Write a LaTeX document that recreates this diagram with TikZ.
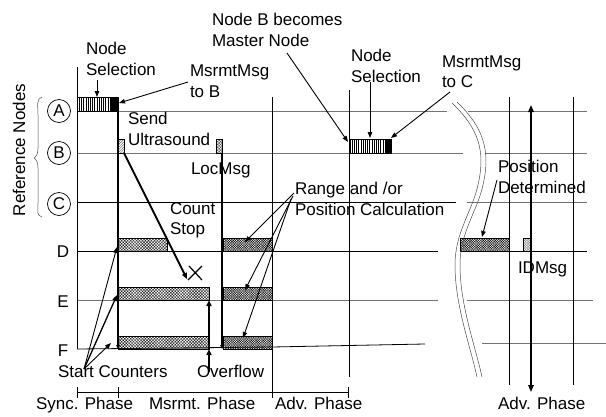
\documentclass[tikz,border=0pt]{standalone}
\usepackage{fontspec}
\setmainfont{Liberation Sans}
\usetikzlibrary{arrows.meta,patterns.meta}
\begin{document}
\begin{tikzpicture}[x=1pt,y=-1pt,
  lbl/.style={inner sep=0pt, outer sep=0pt, font=\fontsize{17}{20.5}\selectfont, align=left, anchor=north west},
  slbl/.style={inner sep=0pt, outer sep=0pt, font=\fontsize{17}{20.5}\selectfont, anchor=base west},
  gridline/.style={line width=0.8pt, black},
  hline/.style={line width=0.9pt, black!55},
  heavy/.style={line width=2pt, black},
  arr/.style={line width=0.9pt, -{Triangle[length=6pt,width=4.5pt]}},
  harr/.style={line width=2pt, -{Triangle[length=6pt,width=5pt]}},
  smallarr/.style={-{Triangle[length=4pt,width=3.5pt]}},
  boxbase/.style={draw, line width=0.6pt, inner sep=0pt, outer sep=0pt, anchor=south west},
  vbox/.style={boxbase, minimum height=14pt, pattern={Lines[angle=90,distance=2.2pt,line width=0.5pt]}},
  blackbox/.style={boxbase, fill=black, minimum height=14pt, minimum width=7pt},
  dbox/.style={boxbase, minimum width=6pt, minimum height=14pt, pattern={Lines[angle=45,distance=1.8pt,line width=0.4pt]}, pattern color=black!70},
  xbox/.style={boxbase, minimum height=13pt, pattern={Hatch[angle=45,distance=2.1pt,line width=0.45pt]}, pattern color=black!85},
  xxbox/.style={boxbase, minimum height=13pt, pattern={Hatch[angle=45,distance=1.7pt,line width=0.45pt]}, pattern color=black!90},
  refc/.style={circle, draw, line width=0.7pt, minimum size=23pt, inner sep=0pt, font=\fontsize{17}{19}\selectfont},
  rowl/.style={inner sep=0pt, font=\fontsize{17}{19}\selectfont},
  brk/.style={line width=0.5pt, black!70}
]
\useasboundingbox (0,0) rectangle (606,416);

% ---------- horizontal lines ----------
\coordinate (a0) at (77,111);  \coordinate (a1) at (447,111);
\coordinate (a2) at (468,111); \coordinate (a3) at (587,111);
\coordinate (b0) at (77,153);  \coordinate (b1) at (463,153);
\coordinate (b2) at (485,153); \coordinate (b3) at (587,153);
\coordinate (c0) at (77,202);  \coordinate (c1) at (456,202);
\coordinate (c2) at (467,202); \coordinate (c3) at (587,202);
\coordinate (d0) at (77,251);  \coordinate (d1) at (438,251);
\coordinate (d2) at (460,251); \coordinate (d3) at (587,251);
\coordinate (e0) at (77,300);  \coordinate (e1) at (438,300);
\coordinate (e2) at (467,300); \coordinate (e3) at (593,300);
\coordinate (f0) at (77,349);  \coordinate (fm) at (272,347);
\coordinate (f1) at (425,344); \coordinate (f2) at (482,343);
\coordinate (f3) at (606,343);
\draw[hline] (a0) -- (a1); \draw[hline] (a2) -- (a3);
\draw[hline] (b0) -- (b1); \draw[hline] (b2) -- (b3);
\draw[gridline] (c0) -- (c1); \draw[hline] (c2) -- (c3);
\draw[gridline] (d0) -- (d1); \draw[gridline] (d2) -- (d3);
\draw[hline] (e0) -- (e1); \draw[hline] (e2) -- (e3);
\draw[gridline] (f0) -- (fm) -- (f1); \draw[hline] (f2) -- (f3);

% ---------- vertical lines ----------
\coordinate (v0t) at (77,67);   \coordinate (v0b) at (77,349);
\coordinate (v3t) at (272,97);  \coordinate (v3b) at (272,392);
\coordinate (v4t) at (349,90);  \coordinate (v4b) at (349,377);
\coordinate (v5t) at (509,97);  \coordinate (v5b) at (509,385);
\coordinate (v6t) at (573,97);  \coordinate (v6b) at (573,385);
\draw[gridline] (v0t) -- (v0b);
\draw[gridline] (v3t) -- (v3b);
\draw[gridline] (v4t) -- (v4b);
\draw[gridline] (v5t) -- (v5b);
\draw[gridline] (v6t) -- (v6b);

% ---------- phase axis ----------
\coordinate (ax0) at (77,392); \coordinate (ax1) at (348,392);
\draw[gridline] (ax0) -- (ax1);
\foreach \t in {77,118,272,348} \draw[gridline] (\t,387) -- (\t,398);

% ---------- boxes ----------
\node[vbox, minimum width=34pt] (selA) at (77,111) {};
\node[blackbox] (msgA) at (111,111) {};
\node[dbox] (usB) at (118,153) {};
\node[dbox, pattern={Hatch[angle=45,distance=2pt,line width=0.4pt]}] (locB) at (216,153) {};
\node[xbox, minimum width=49pt] (dL) at (118,251) {};
\node[xbox, minimum width=91pt] (eL) at (118,300) {};
\node[xbox, minimum width=91pt] (fL) at (118,349) {};
\node[xxbox, minimum width=49pt] (dR) at (223,251) {};
\node[xxbox, minimum width=49pt] (eR) at (223,300) {};
\node[xxbox, minimum width=49pt] (fR) at (223,349) {};
\node[vbox, minimum width=36pt] (selB) at (349,153) {};
\node[blackbox, minimum width=6pt] (msgB) at (385,153) {};
\node[xxbox, minimum width=49pt] (dX) at (460,251) {};
\node[xbox, minimum width=7pt, pattern={Hatch[angle=45,distance=1.8pt,line width=0.35pt]}, pattern color=black!50] (idm) at (523,251) {};

% ---------- heavy timeline lines ----------
\coordinate (h1b) at (118,349);
\draw[heavy] (msgA.south east) -- ([yshift=3pt]h1b);
\draw[smallarr, line width=0.8pt] ([yshift=3pt]h1b) -- (h1b);
\coordinate (h2b) at (222,349);
\draw[heavy] (locB.south east) -- ([yshift=3pt]h2b);
\draw[smallarr, line width=0.8pt] ([yshift=3pt]h2b) -- (h2b);

% ---------- overflow ----------
\coordinate (ovb) at (209,372);
\coordinate (ovf) at (209,349);
\coordinate (ove) at (209,300);
\draw[harr] (ovb) -- (ovf);
\draw[harr] (ovf) -- (ove);

% ---------- count stop ----------
\coordinate (cst) at (187,279);
\draw[harr] (usB.south east) -- (cst);
\coordinate (x1) at (188,280); \coordinate (x2) at (202,266);
\coordinate (x3) at (189,266); \coordinate (x4) at (202,280);
\draw[line width=1.2pt] (x1) -- (x2);
\draw[line width=1.2pt] (x3) -- (x4);

% ---------- double arrow ----------
\coordinate (dat) at (531,105); \coordinate (dab) at (531,392);
\draw[line width=1.5pt, {Triangle[length=7pt,width=5.5pt]}-{Triangle[length=7pt,width=5.5pt]}] (dat) -- (dab);

% ---------- break marks ----------
\draw[brk] (452,103) .. controls (478,128) and (486,150) .. (478,185)
  .. controls (472,212) and (455,232) .. (455,265)
  .. controls (455,305) and (470,345) .. (477,377);
\draw[brk] (457,102) .. controls (483,127) and (491,150) .. (483,185)
  .. controls (477,212) and (460,232) .. (460,265)
  .. controls (460,305) and (475,345) .. (482,377);

% ---------- reference node labels ----------
\node[refc] (cA) at (59,111) {A};
\node[refc] (cB) at (59,153) {B};
\node[refc] (cC) at (59,204) {C};
\node[rowl] (lD) at (63,252) {D};
\node[rowl] (lE) at (63,302) {E};
\node[rowl] (lF) at (63,351) {F};
\coordinate (brt) at (42,97); \coordinate (brb) at (42,217);
\draw[line width=0.5pt, black!70] (brt) .. controls (36,99) and (38,105) .. (38,115)
  -- (38,148) .. controls (38,154) and (36,157) .. (34,158)
  .. controls (36,159) and (38,162) .. (38,168)
  -- (38,203) .. controls (38,212) and (36,215) .. (brb);
\node[inner sep=0pt, rotate=90, font=\fontsize{17}{19}\selectfont] (refn) at (19,150) {Reference Nodes};

% ---------- text labels ----------
\node[lbl] (tNS1) at (86,42.5) {Node\\Selection};
\node[lbl] (tMB) at (190,65) {MsrmtMsg\\to B};
\node[lbl] (tSU) at (128,112.5) {Send\\Ultrasound};
\node[slbl] (tLoc) at (191,174) {LocMsg};
\node[lbl] (tCS) at (170,202.5) {Count\\Stop};
\node[lbl] (tNB) at (212,13.5) {Node B becomes\\Master Node};
\node[lbl] (tNS2) at (351,49.5) {Node\\Selection};
\node[lbl] (tMC) at (442,55.5) {MsrmtMsg\\to C};
\node[lbl] (tRP) at (295,182.5) {Range and /or\\Position Calculation};
\node[lbl] (tPD) at (498,160.5) {Position\\Determined};
\node[slbl] (tID) at (518,273) {IDMsg};
\node[slbl] (tSC) at (58,377) {Start Counters};
\node[slbl] (tOv) at (197,377) {Overflow};
\node[slbl] (tP1) at (36,409) {Sync. Phase};
\node[slbl] (tP2) at (149,409) {Msrmt. Phase};
\node[slbl] (tP3) at (275,409) {Adv. Phase};
\node[slbl] (tP4) at (498,409) {Adv. Phase};

% ---------- annotation arrows ----------
\coordinate (ns1s) at (97,80);   \coordinate (ns1e) at (97,97);
\draw[arr] (ns1s) -- (ns1e);
\coordinate (mbs) at (188,82);   \coordinate (mbe) at (119,103);
\draw[arr] (mbs) -- (mbe);
\coordinate (scs) at (84,369);
\coordinate (scd) at (117,247); \coordinate (sce) at (117,295); \coordinate (scf) at (111,343);
\draw[arr] (scs) -- (scd);
\draw[arr, line width=1.3pt] (scs) -- (sce);
\draw[arr] (scs) -- (scf);
\coordinate (rp1) at (294,193); \coordinate (rp2) at (293,196); \coordinate (rp3) at (291,199);
\coordinate (rpd) at (245,242); \coordinate (rpe) at (245,290); \coordinate (rpf) at (243,338);
\draw[arr] (rp1) -- (rpd);
\draw[arr] (rp2) -- (rpe);
\draw[arr] (rp3) -- (rpf);
\coordinate (nbs) at (287,53);  \coordinate (nbe) at (348,142);
\draw[arr] (nbs) -- (nbe);
\coordinate (ns2s) at (370,82); \coordinate (ns2e) at (370,138);
\draw[arr] (ns2s) -- (ns2e);
\coordinate (mcs) at (450,92);  \coordinate (mce) at (391,138);
\draw[arr] (mcs) -- (mce);
\coordinate (pds) at (497,180); \coordinate (pde) at (482,237);
\draw[arr] (pds) -- (pde);
\end{tikzpicture}
\end{document}
